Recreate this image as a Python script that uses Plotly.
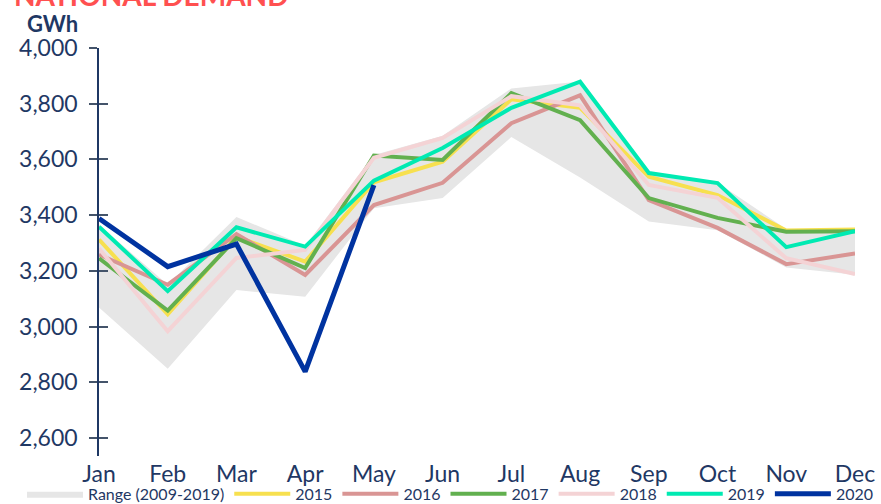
import plotly.graph_objects as go

months = ["Jan", "Feb", "Mar", "Apr", "May", "Jun", "Jul", "Aug", "Sep", "Oct", "Nov", "Dec"]
range_max = [3365, 3150, 3393, 3290, 3616, 3685, 3855, 3880, 3552, 3516, 3350, 3350]
range_min = [3068, 2848, 3131, 3107, 3425, 3461, 3680, 3535, 3377, 3346, 3212, 3186]
s2015 = [3312, 3044, 3322, 3233, 3518, 3592, 3816, 3785, 3538, 3472, 3345, 3348]
s2016 = [3258, 3150, 3332, 3185, 3436, 3516, 3730, 3830, 3454, 3354, 3224, 3262]
s2017 = [3245, 3057, 3317, 3210, 3614, 3598, 3838, 3741, 3461, 3390, 3340, 3342]
s2018 = [3280, 2983, 3246, 3275, 3606, 3677, 3827, 3794, 3508, 3462, 3245, 3188]
s2019 = [3358, 3127, 3356, 3287, 3524, 3641, 3785, 3879, 3551, 3515, 3285, 3342]
s2020 = [3388, 3215, 3296, 2838, 3508]
y_ticks = [2600, 2800, 3000, 3200, 3400, 3600, 3800, 4000]

NAVY = "#1F3864"
idx = list(range(len(months)))

fig = go.Figure()
fig.add_trace(go.Scatter(
    x=idx + idx[::-1], y=range_max + range_min[::-1],
    fill="toself", fillcolor="#E6E6E6", line=dict(width=0, color="#E6E6E6"),
    mode="lines", name="Range (2009-2019)", hoverinfo="skip"))

series = [("2015", s2015, "#F7E04F", 4), ("2016", s2016, "#D99594", 4),
          ("2017", s2017, "#62B04F", 4), ("2018", s2018, "#F4D3D5", 4),
          ("2019", s2019, "#00EAB2", 4), ("2020", s2020, "#0033A0", 5)]
for name, vals, col, w in series:
    fig.add_trace(go.Scatter(x=idx[:len(vals)], y=vals, mode="lines", name=name,
                             line=dict(color=col, width=w)))

# invisible trace for the inner tick axis
fig.add_trace(go.Scatter(x=idx, y=range_max, yaxis="y2", mode="lines",
                         line=dict(width=0), opacity=0, showlegend=False, hoverinfo="skip"))

FIG_W = 920            # a bit wider than the window so the one-row legend fits
PLOT_W = FIG_W - 99    # paper width (plot area uses a domain of it)

fig.update_layout(
    width=FIG_W, height=504,
    margin=dict(l=99, r=0, t=48, b=48, autoexpand=False),
    paper_bgcolor="white", plot_bgcolor="white",
    font=dict(family="Lato", color=NAVY),
    showlegend=True,
    xaxis=dict(domain=[0, 756 / PLOT_W], range=[0, 11], tickvals=idx, ticktext=months,
               showgrid=False, zeroline=False, showline=False, ticks="",
               ticklabelstandoff=2,
               tickfont=dict(family="Lato", size=23, color=NAVY)),
    yaxis=dict(range=[2535, 4000], tickvals=y_ticks, tickformat=",", showgrid=False,
               zeroline=False, showline=True, linecolor=NAVY, linewidth=1.5,
               ticks="outside", ticklen=8, tickwidth=1.5, tickcolor="#44546A",
               ticklabelstandoff=7,
               tickfont=dict(family="Lato", size=23, color=NAVY)),
    yaxis2=dict(range=[2535, 4000], tickvals=y_ticks, overlaying="y", side="left",
                showgrid=False, zeroline=False, showline=False, showticklabels=False,
                ticks="inside", ticklen=9, tickwidth=1.5, tickcolor="#44546A"),
    legend=dict(orientation="h", x=-77 / PLOT_W, xanchor="left", y=-0.093, yanchor="middle",
                font=dict(family="Lato", size=16, color=NAVY),
                itemwidth=56, bgcolor="rgba(0,0,0,0)", traceorder="normal"),
    annotations=[
        dict(text="<b>NATIONAL DEMAND</b>", xref="paper", yref="paper",
             x=-87 / PLOT_W, y=1.129, xanchor="left", yanchor="middle", showarrow=False,
             font=dict(family="Lato", size=28, color="#FF5050")),
        dict(text="<b>GWh</b>", xref="paper", yref="paper",
             x=-74 / PLOT_W, y=1.060, xanchor="left", yanchor="middle", showarrow=False,
             font=dict(family="Lato", size=22, color=NAVY)),
    ],
)

fig.write_html("out.html", config={"displayModeBar": False},
               post_script="document.body.style.margin='0';document.body.style.overflow='hidden';")
